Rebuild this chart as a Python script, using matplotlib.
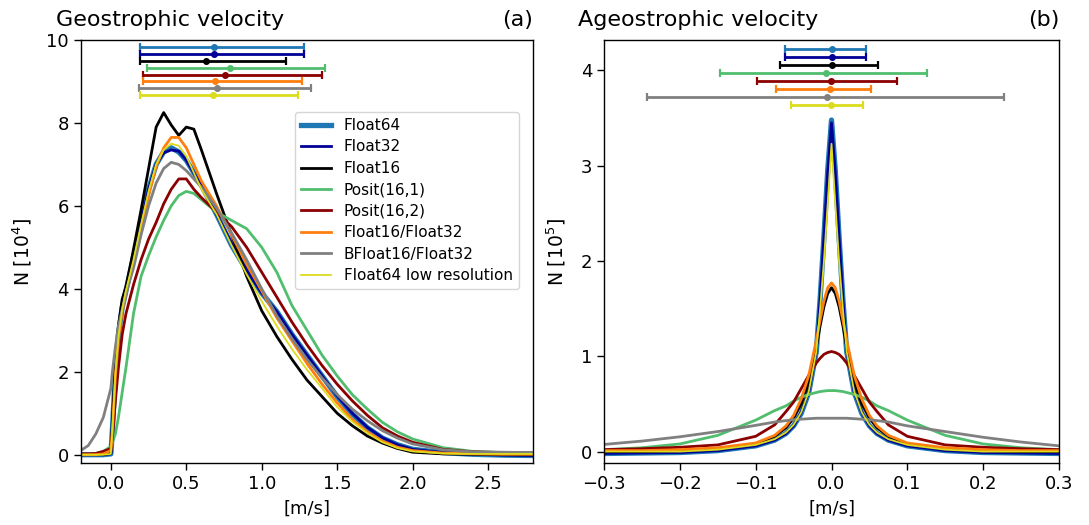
import numpy as np
import matplotlib
matplotlib.use('Agg')
import matplotlib.pyplot as plt

# ---- data: geostrophic velocity histograms, N in 1e4 ----
labels = ['Float64', 'Float32', 'Float16', 'Posit(16,1)', 'Posit(16,2)',
          'Float16/Float32', 'BFloat16/Float32', 'Float64 low resolution']
colors = ['#1f77b4', '#000096', 'black', '#50be6e', '#8b0000',
          '#ff7f0e', 'grey', '#dcdc1e']
widths = [3.8, 2.0, 2.0, 2.0, 2.0, 2.0, 2.0, 1.3]

u_geo = [-0.2, -0.15, -0.1, -0.05, 0.0, 0.01, 0.03, 0.05, 0.075, 0.1, 0.15, 0.2, 0.25, 0.3,
         0.35, 0.4, 0.45, 0.5, 0.55, 0.6, 0.7, 0.8, 0.9, 1.0, 1.1, 1.2, 1.3, 1.4, 1.5, 1.6,
         1.7, 1.8, 1.9, 2.0, 2.2, 2.4, 2.6, 2.8]

f64_geo = [0.0, 0.0, 0.0, 0.0, 0.02, 0.6, 2.0, 2.9, 3.55, 3.95, 4.75, 5.6, 6.4, 7.0, 7.3, 7.4,
           7.3, 7.1, 6.8, 6.5, 5.8, 5.05, 4.45, 3.9, 3.45, 2.9, 2.4, 1.9, 1.4, 0.98, 0.65, 0.4,
           0.24, 0.13, 0.05, 0.01, -0.01, -0.02]
f32_geo = [0.0, 0.0, 0.0, 0.0, 0.02, 0.6, 2.0, 2.9, 3.55, 3.95, 4.75, 5.6, 6.4, 7.0, 7.28, 7.35,
           7.32, 7.1, 6.8, 6.48, 5.8, 5.1, 4.45, 3.9, 3.45, 2.9, 2.4, 1.9, 1.42, 1.0, 0.66, 0.41,
           0.24, 0.13, 0.05, 0.01, -0.01, -0.02]
f16_geo = [0.0, 0.0, 0.0, 0.0, 0.05, 0.8, 2.2, 3.1, 3.75, 4.05, 4.95, 5.9, 6.9, 7.9, 8.25, 7.95,
           7.7, 7.9, 7.85, 7.35, 6.3, 5.3, 4.3, 3.47, 2.85, 2.3, 1.8, 1.4, 1.0, 0.7, 0.45, 0.28,
           0.15, 0.06, 0.02, 0.01, 0.0, 0.0]
p1_geo = [0.0, 0.01, 0.03, 0.08, 0.2, 0.3, 0.5, 0.9, 1.5, 2.1, 3.4, 4.3, 4.8, 5.25, 5.65, 6.0,
          6.25, 6.35, 6.3, 6.15, 5.85, 5.65, 5.45, 5.0, 4.4, 3.6, 3.0, 2.4, 1.9, 1.45, 1.1, 0.78,
          0.55, 0.38, 0.17, 0.08, 0.05, 0.04]
p2_geo = [0.02, 0.02, 0.03, 0.08, 0.15, 0.4, 1.3, 2.1, 2.9, 3.4, 4.1, 4.7, 5.2, 5.6, 6.05, 6.4,
          6.65, 6.65, 6.4, 6.2, 5.85, 5.5, 5.0, 4.4, 3.8, 3.2, 2.65, 2.15, 1.7, 1.3, 0.95, 0.65,
          0.45, 0.3, 0.13, 0.07, 0.05, 0.04]
f1632_geo = [0.0, 0.0, 0.0, 0.02, 0.1, 0.6, 1.9, 2.8, 3.45, 3.9, 4.6, 5.45, 6.25, 6.95, 7.4, 7.65,
             7.65, 7.4, 7.0, 6.6, 6.0, 5.3, 4.6, 3.95, 3.3, 2.75, 2.2, 1.7, 1.25, 0.85, 0.55,
             0.33, 0.18, 0.1, 0.04, 0.02, 0.01, 0.01]
bf16_geo = [0.1, 0.22, 0.5, 0.9, 1.6, 2.0, 2.6, 3.1, 3.5, 3.9, 4.5, 5.3, 6.0, 6.55, 6.9, 7.05,
            7.0, 6.85, 6.65, 6.45, 5.95, 5.35, 4.7, 4.0, 3.35, 2.8, 2.3, 1.85, 1.45, 1.1, 0.82,
            0.58, 0.4, 0.26, 0.12, 0.07, 0.06, 0.05]
low_geo = [0.0, 0.0, 0.0, 0.0, 0.02, 0.6, 1.95, 2.85, 3.5, 3.95, 4.7, 5.55, 6.35, 7.0, 7.35, 7.5,
           7.45, 7.2, 6.8, 6.4, 5.8, 5.05, 4.35, 3.7, 3.1, 2.55, 2.05, 1.6, 1.15, 0.8, 0.52,
           0.3, 0.16, 0.08, 0.03, 0.02, 0.02, 0.02]

mean_geo = [0.683, 0.683, 0.630, 0.787, 0.754, 0.690, 0.701, 0.675]
lo_geo = [0.195, 0.195, 0.191, 0.237, 0.215, 0.211, 0.184, 0.195]
hi_geo = [1.282, 1.282, 1.160, 1.421, 1.399, 1.266, 1.326, 1.242]

# ---- data: ageostrophic velocity histograms, N in 1e5 ----
u_ageo = [-0.3, -0.25, -0.2, -0.15, -0.1, -0.075, -0.06, -0.05, -0.04, -0.03, -0.02, -0.015,
          -0.01, -0.005, 0.0, 0.005, 0.01, 0.015, 0.02, 0.03, 0.04, 0.05, 0.06, 0.075, 0.1,
          0.15, 0.2, 0.25, 0.3]

f64_ageo = [-0.02, -0.015, -0.01, 0.01, 0.06, 0.12, 0.19, 0.27, 0.4, 0.62, 1.05, 1.6, 2.25, 2.95,
            3.48,
            2.95, 2.25, 1.6, 1.05, 0.62, 0.4, 0.27, 0.19, 0.12, 0.06, 0.01, -0.01, -0.015, -0.02]
f32_ageo = [-0.02, -0.015, -0.01, 0.01, 0.06, 0.12, 0.19, 0.27, 0.41, 0.63, 1.06, 1.6, 2.25, 2.93,
            3.45,
            2.93, 2.25, 1.6, 1.06, 0.63, 0.41, 0.27, 0.19, 0.12, 0.06, 0.01, -0.01, -0.015, -0.02]
f16_ageo = [0.0, 0.0, 0.01, 0.03, 0.08, 0.16, 0.25, 0.35, 0.5, 0.73, 1.1, 1.32, 1.52, 1.66,
            1.72,
            1.66, 1.52, 1.32, 1.1, 0.73, 0.5, 0.35, 0.25, 0.16, 0.08, 0.03, 0.01, 0.0, 0.0]
p1_ageo = [0.02, 0.04, 0.08, 0.17, 0.33, 0.43, 0.48, 0.53, 0.57, 0.6, 0.62, 0.63, 0.635, 0.64,
           0.64,
           0.64, 0.635, 0.63, 0.62, 0.6, 0.57, 0.53, 0.48, 0.43, 0.33, 0.17, 0.08, 0.04, 0.02]
p2_ageo = [0.02, 0.03, 0.045, 0.07, 0.16, 0.28, 0.42, 0.52, 0.66, 0.8, 0.93, 0.98, 1.02, 1.04,
           1.05,
           1.04, 1.02, 0.98, 0.93, 0.8, 0.66, 0.52, 0.42, 0.28, 0.16, 0.07, 0.045, 0.03, 0.02]
f1632_ageo = [0.01, 0.01, 0.02, 0.04, 0.09, 0.17, 0.27, 0.38, 0.55, 0.8, 1.17, 1.38, 1.58, 1.72,
              1.77,
              1.72, 1.58, 1.38, 1.17, 0.8, 0.55, 0.38, 0.27, 0.17, 0.09, 0.04, 0.02, 0.01, 0.01]
bf16_ageo = [0.075, 0.11, 0.155, 0.21, 0.275, 0.31, 0.325, 0.335, 0.34, 0.345, 0.35, 0.35, 0.35,
             0.35, 0.35,
             0.35, 0.35, 0.35, 0.35, 0.345, 0.34, 0.335, 0.325, 0.31, 0.27, 0.21, 0.15, 0.1, 0.06]
low_ageo = [0.0, 0.0, 0.0, 0.02, 0.07, 0.13, 0.2, 0.28, 0.41, 0.63, 1.05, 1.5, 2.0, 2.6,
            3.23,
            2.6, 2.0, 1.5, 1.05, 0.63, 0.41, 0.28, 0.2, 0.13, 0.07, 0.02, 0.0, 0.0, 0.0]

mean_ageo = [0.0, 0.0, 0.0, -0.007, -0.0005, -0.002, -0.006, -0.0005]
lo_ageo = [-0.061, -0.061, -0.068, -0.147, -0.098, -0.073, -0.243, -0.053]
hi_ageo = [0.046, 0.046, 0.061, 0.126, 0.086, 0.052, 0.227, 0.042]

geo = [f64_geo, f32_geo, f16_geo, p1_geo, p2_geo, f1632_geo, bf16_geo, low_geo]
ageo = [f64_ageo, f32_ageo, f16_ageo, p1_ageo, p2_ageo, f1632_ageo, bf16_ageo, low_ageo]

plt.rcParams['font.family'] = 'DejaVu Sans'
plt.rcParams['xtick.labelsize'] = 13
plt.rcParams['ytick.labelsize'] = 13
plt.rcParams['axes.linewidth'] = 1.0

fig = plt.figure(figsize=(10.89, 5.25), dpi=100)
ax1 = fig.add_axes([80.7/1089, 1-463/525, 452.6/1089, 423/525])
ax2 = fig.add_axes([604/1089, 1-463/525, 455/1089, 423/525])

for i in range(8):
    ax1.plot(u_geo, geo[i], color=colors[i], lw=widths[i], label=labels[i])
    ax2.plot(u_ageo, ageo[i], color=colors[i], lw=widths[i], label=labels[i])

# mean and spread bars on top
for i in range(8):
    y1 = 9.83 - 0.166*i
    ax1.errorbar(mean_geo[i], y1,
                 xerr=[[mean_geo[i]-lo_geo[i]], [hi_geo[i]-mean_geo[i]]],
                 color=colors[i], marker='o', ms=4, elinewidth=2.0, capsize=3, capthick=1.6)
    y2 = 4.23 - 0.0839*i
    ax2.errorbar(mean_ageo[i], y2,
                 xerr=[[mean_ageo[i]-lo_ageo[i]], [hi_ageo[i]-mean_ageo[i]]],
                 color=colors[i], marker='o', ms=4, elinewidth=2.0, capsize=3, capthick=1.6)

ax1.set_xlim(-0.2, 2.8)
ax1.set_ylim(-0.2, 10)
ax1.set_xticks([0.0, 0.5, 1.0, 1.5, 2.0, 2.5])
ax1.set_yticks([0, 2, 4, 6, 8, 10])
ax1.set_xlabel('[m/s]', fontsize=13, labelpad=5)
ax1.set_ylabel('N [$10^4$]', fontsize=13.5, labelpad=9)
ax1.set_title('Geostrophic velocity', loc='left', fontsize=16, x=-0.055, pad=10)
ax1.set_title('(a)', loc='right', fontsize=16, pad=10)

ax2.set_xlim(-0.3, 0.3)
ax2.set_ylim(-0.12, 4.32)
ax2.set_xticks([-0.3, -0.2, -0.1, 0.0, 0.1, 0.2, 0.3])
ax2.set_yticks([0, 1, 2, 3, 4])
ax2.set_xlabel('[m/s]', fontsize=13, labelpad=5)
ax2.set_ylabel('N [$10^5$]', fontsize=13.5, labelpad=9)
ax2.set_title('Ageostrophic velocity', loc='left', fontsize=16, x=-0.057, pad=10)
ax2.set_title('(b)', loc='right', fontsize=16, pad=10)

for ax in (ax1, ax2):
    ax.tick_params(length=5, width=1.0)

ax1.legend(loc='upper right', bbox_to_anchor=(0.968, 0.83), borderaxespad=0,
           fontsize=11, labelspacing=0.42)

fig.savefig('out.png', dpi=100)
